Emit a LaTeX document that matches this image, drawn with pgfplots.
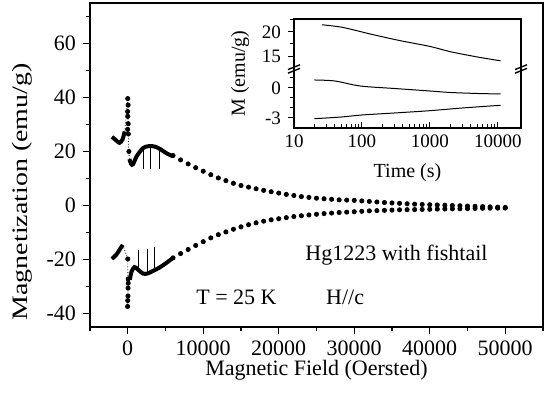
\documentclass[border=0pt]{standalone}
\usepackage{fontspec}
\setmainfont{Liberation Serif}
\usepackage{pgfplots}
\pgfplotsset{compat=1.18}

\pgfplotstableread{
F M
6000 18.5
7000 16.9
8000 15.4
9000 14.0
10000 12.7
11000 11.4
12000 10.2
13000 9.2
14000 8.2
15000 7.4
16000 6.8
17000 6.2
18000 5.6
19000 5.1
20000 4.6
21000 4.1
22000 3.7
23000 3.3
24000 3.0
25000 2.7
26000 2.5
27000 2.3
28000 2.1
29000 2.0
30000 1.9
31000 1.7
32000 1.5
33000 1.3
34000 1.1
35000 0.95
36000 0.8
37000 0.65
38000 0.5
39000 0.4
40000 0.3
41000 0.2
42000 0.1
43000 0.0
44000 -0.1
45000 -0.2
46000 -0.3
47000 -0.4
48000 -0.5
49000 -0.6
50000 -0.7
}\upperdots

\pgfplotstableread{
F M
6000 -19.4
7000 -17.8
8000 -16.3
9000 -14.8
10000 -13.4
11000 -12.0
12000 -10.8
13000 -9.8
14000 -8.8
15000 -7.9
16000 -7.1
17000 -6.4
18000 -5.8
19000 -5.3
20000 -4.9
21000 -4.5
22000 -4.1
23000 -3.8
24000 -3.5
25000 -3.25
26000 -3.0
27000 -2.8
28000 -2.6
29000 -2.45
30000 -2.3
31000 -2.15
32000 -2.0
33000 -1.9
34000 -1.8
35000 -1.7
36000 -1.6
37000 -1.55
38000 -1.5
39000 -1.45
40000 -1.4
41000 -1.35
42000 -1.3
43000 -1.25
44000 -1.2
45000 -1.15
46000 -1.1
47000 -1.05
48000 -1.0
49000 -0.98
50000 -0.95
}\lowerdots

\newcommand{\mainfont}{\fontsize{11}{13}\selectfont}
\newcommand{\insetfont}{\fontsize{9.5}{11}\selectfont}

\begin{document}
\begin{tikzpicture}
\useasboundingbox (-45pt,-33.5pt) rectangle (228pt,163.5pt);
\begin{axis}[
  name=main, at={(0,0)}, anchor=south west,
  scale only axis, width=226.5pt, height=162pt,
  xmin=-5000, xmax=55000, ymin=-45, ymax=75,
  xtick={0,10000,20000,30000,40000,50000},
  minor xtick={-5000,5000,15000,25000,35000,45000,55000},
  ytick={-40,-20,0,20,40,60},
  minor ytick={-30,-10,10,30,50,70},
  tick pos=left, tick align=outside,
  major tick length=3.5pt, minor tick length=2pt,
  scaled x ticks=false,
  xticklabel style={/pgf/number format/1000 sep={}},
  /pgf/number format/assume math mode=true,
  tick label style={font=\mainfont},
  label style={font=\mainfont},
  axis line style={line width=0.8pt},
  every tick/.style={black, line width=0.6pt},
  xlabel={Magnetic Field (Oersted)},
  ylabel={\scalebox{1.27}[1]{Magnetization (emu/g)}},
  xlabel style={at={(axis description cs:0.5,-0.1327)}, anchor=center},
  ylabel style={at={(axis description cs:-0.150,0.417)}, anchor=center},
  clip=false,
]
% sparse dotted branches
\addplot[only marks, mark=*, mark size=1.05pt, black] table[x=F,y=M] {\upperdots};
\addplot[only marks, mark=*, mark size=1.05pt, black] table[x=F,y=M] {\lowerdots};
% dense low-field segments (upper branch)
\addplot[black, line width=2pt, smooth] coordinates {(-2100,25.4) (-1600,24.3) (-1100,23.2) (-700,24.4) (-400,27.4)};
\addplot[black, line width=2pt, smooth] coordinates {(220,17.2) (450,15.4) (700,15.3) (1200,18.3) (2000,21.2) (2600,21.9) (3200,22.0) (3800,21.6) (4300,20.9) (5100,19.4) (6000,18.2)};
% dense low-field segments (lower branch)
\addplot[black, line width=2pt, smooth] coordinates {(-2100,-19.8) (-1500,-18.2) (-1000,-16.0) (-660,-14.6)};
\addplot[black, line width=2pt, smooth] coordinates {(280,-27.5) (500,-24.5) (900,-22.8) (1300,-23.6) (2000,-25.2) (2600,-25.2) (3300,-24.3) (4200,-23.0) (5000,-21.5) (6000,-19.4)};
% vertical dotted connections near zero field
\addplot[black, densely dotted, line width=0.4pt] coordinates {(-400,27.4) (0,39.6) (60,30) (120,20) (250,16.8)};
\addplot[black, densely dotted, line width=0.4pt] coordinates {(-660,-14.6) (0,-19.8) (30,-30) (0,-37.4)};
\addplot[only marks, mark=*, mark size=1.05pt, black] coordinates {(0,39.6) (50,37.2) (-20,34.8) (0,33) (60,30.3) (-10,28.2) (80,26.5) (150,20.0)};
\addplot[only marks, mark=*, mark size=1.05pt, black] coordinates {(0,-19.8) (60,-27.2) (60,-28.8) (40,-30.6) (30,-33.5) (0,-35.2) (-20,-37.4)};
% relaxation markers
\addplot[black, line width=0.5pt] coordinates {(2100,21.3) (2100,13.5)};
\addplot[black, line width=0.5pt] coordinates {(3000,21.9) (3000,13.5)};
\addplot[black, line width=0.5pt] coordinates {(4150,21.0) (4150,13.5)};
\addplot[black, line width=0.5pt] coordinates {(1460,-24.0) (1460,-16.5)};
\addplot[black, line width=0.5pt] coordinates {(2560,-25.2) (2560,-16.0)};
\addplot[black, line width=0.5pt] coordinates {(3570,-24.5) (3570,-15.3)};
% annotations
\node[font=\mainfont] at (axis cs:35600,-18.3) {Hg1223 with fishtail};
\node[font=\mainfont] at (axis cs:14400,-34) {T = 25 K};
\node[font=\mainfont] at (axis cs:28800,-34) {H//c};
\end{axis}

% inset, lower part
\begin{axis}[
  name=inlow, at={(102pt,99.5pt)}, anchor=south west,
  scale only axis, width=113.5pt, height=29.5pt,
  xmode=log, xmin=10, xmax=22000, ymin=-4, ymax=1.9,
  xtick={10,100,1000,10000},
  xticklabels={10,100,1000,10000},
  ytick={-3,0}, minor ytick={-2,-1,1},
  xtick pos=bottom, ytick pos=left,
  xtick align=inside, ytick align=outside,
  major tick length=3pt, minor tick length=1.8pt,
  /pgf/number format/assume math mode=true,
  tick label style={font=\insetfont},
  axis line style={draw=none},
  every tick/.style={black, line width=0.5pt},
  clip=false,
]
\addplot[black, line width=0.5pt, smooth] coordinates {(20,0.8) (40,0.7) (94,0.2) (300,-0.05) (1000,-0.3) (2000,-0.45) (5000,-0.55) (11000,-0.6)};
\addplot[black, line width=0.5pt, smooth] coordinates {(20,-3.07) (50,-2.9) (100,-2.7) (300,-2.5) (1000,-2.27) (3000,-2.0) (11000,-1.73)};
\end{axis}

% inset, upper part
\begin{axis}[
  name=inup, at={(102pt,129pt)}, anchor=south west,
  scale only axis, width=113.5pt, height=25pt,
  xmode=log, xmin=10, xmax=22000, ymin=12.3, ymax=22.7,
  xtick=\empty, minor xtick={},
  ytick={15,20}, minor ytick={17.5,22.5},
  ytick pos=left, ytick align=outside,
  major tick length=3pt, minor tick length=1.8pt,
  /pgf/number format/assume math mode=true,
  tick label style={font=\insetfont},
  axis line style={draw=none},
  every tick/.style={black, line width=0.5pt},
  clip=false,
]
\addplot[black, line width=0.5pt, smooth] coordinates {(26,21.5) (50,21.0) (94,20.1) (140,19.5) (364,18.2) (1000,17.0) (2000,15.9) (5000,14.8) (11000,14.0)};
\end{axis}

% inset frame and axis-break marks
\draw[line width=0.6pt] (inlow.south west) rectangle (inup.north east);
\draw[line width=1pt] (inup.north west) -- (inup.north east);
\foreach \dy in {-0.9pt,0.9pt}{
  \draw[line width=0.7pt] ([yshift=\dy]inlow.north west) ++(-3pt,-1.2pt) -- ++(6pt,2.4pt);
  \draw[line width=0.7pt] ([yshift=\dy]inlow.north east) ++(-3pt,-1.2pt) -- ++(6pt,2.4pt);
}
\node[rotate=90, font=\fontsize{10}{12}\selectfont] at (75pt,126.75pt) {M (emu/g)};
\node[font=\fontsize{10}{12}\selectfont] at (158.75pt,77pt) {Time (s)};
\end{tikzpicture}
\end{document}
